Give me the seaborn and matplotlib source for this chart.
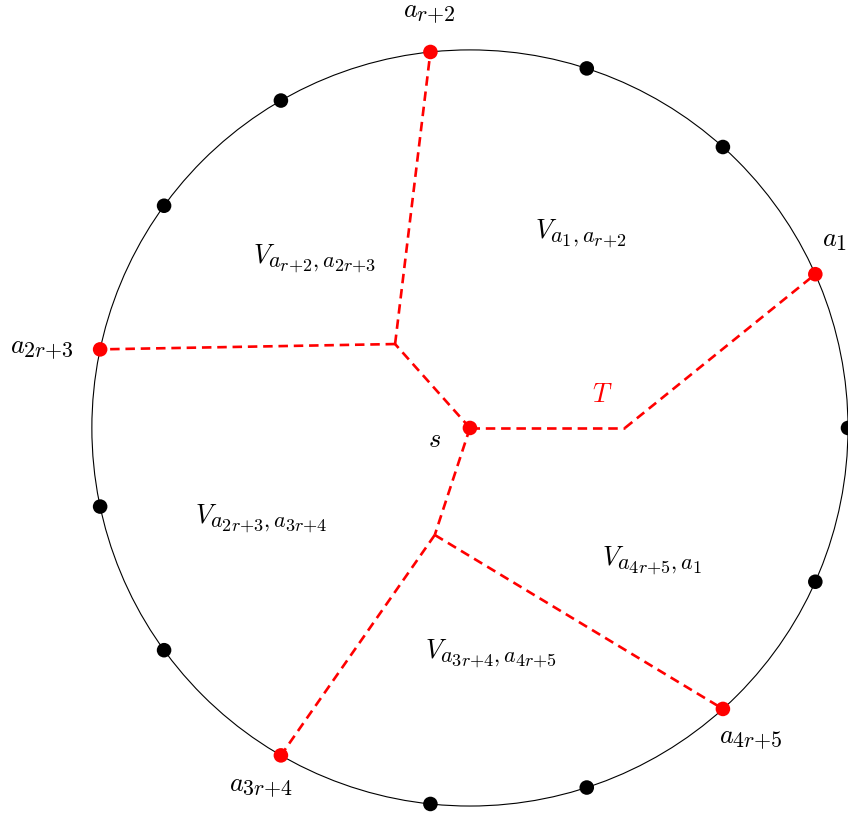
import numpy as np
import pandas as pd
import seaborn as sns
import matplotlib.pyplot as plt
import matplotlib._mathtext as mathtext_internals
from matplotlib.patches import Circle

sns.set_theme(style="white")
plt.rcParams["mathtext.fontset"] = "cm"
# subscripts in the reference are larger than matplotlib's default 0.7 shrink
mathtext_internals.SHRINK_FACTOR = 0.83

# boundary points on the unit circle (degrees)
angles = [0, 24, 48, 72, 96, 120, 144, 168, 192, 216, 240, 264, 288, 312, 336]
terminal_angles = [24, 96, 168, 240, 312]
terminal_names = ["a1", "ar2", "a2r3", "a3r4", "a4r5"]

# inner tree nodes
inner_nodes = {
    "s": (0.0, 0.0),
    "b": (0.41, 0.0),
    "p": (-0.198, 0.222),
    "q": (-0.093, -0.283),
}

edges = [("s", "b"), ("b", "a1"), ("s", "p"), ("p", "ar2"), ("p", "a2r3"),
         ("s", "q"), ("q", "a3r4"), ("q", "a4r5")]

# labels: (text, x of left edge, y of baseline, color)
# "{+}" keeps the tight script-style spacing of the original
labels = [
    (r"$a_{r{+}2}$", -0.177, 1.087, "black"),
    (r"$a_1$", 0.931, 0.479, "black"),
    (r"$a_{2r{+}3}$", -1.217, 0.198, "black"),
    (r"$a_{3r{+}4}$", -0.638, -0.958, "black"),
    (r"$a_{4r{+}5}$", 0.659, -0.833, "black"),
    (r"$s$", -0.111, -0.050, "black"),
    (r"$T$", 0.323, 0.069, "red"),
    (r"$V_{a_1,a_{r{+}2}}$", 0.172, 0.505, "black"),
    (r"$V_{a_{r{+}2},a_{2r{+}3}}$", -0.574, 0.439, "black"),
    (r"$V_{a_{2r{+}3},a_{3r{+}4}}$", -0.728, -0.251, "black"),
    (r"$V_{a_{4r{+}5},a_1}$", 0.349, -0.362, "black"),
    (r"$V_{a_{3r{+}4},a_{4r{+}5}}$", -0.119, -0.608, "black"),
]

nodes = dict(inner_nodes)
for ang, nm in zip(terminal_angles, terminal_names):
    nodes[nm] = (np.cos(np.radians(ang)), np.sin(np.radians(ang)))

fig = plt.figure(figsize=(8.48, 8.17), dpi=100)
ax = fig.add_axes([0, 0, 1, 1])

ax.add_patch(Circle((0, 0), 1.0, fill=False, color="black", lw=0.8, zorder=1))

for u, v in edges:
    seg = pd.DataFrame({"x": [nodes[u][0], nodes[v][0]], "y": [nodes[u][1], nodes[v][1]]})
    sns.lineplot(data=seg, x="x", y="y", sort=False, ax=ax, color="red",
                 lw=1.9, linestyle=(0, (3.6, 2.2)), zorder=2)

pts = pd.DataFrame({
    "x": np.cos(np.radians(angles)),
    "y": np.sin(np.radians(angles)),
    "kind": ["red" if a in terminal_angles else "black" for a in angles],
})
pts = pd.concat([pts, pd.DataFrame({"x": [0.0], "y": [0.0], "kind": ["red"]})])
sns.scatterplot(data=pts, x="x", y="y", hue="kind",
                palette={"red": "red", "black": "black"},
                s=110, linewidth=0, legend=False, ax=ax, zorder=3)

for txt, x, y, c in labels:
    ax.text(x, y, txt, color=c, fontsize=19, ha="left", va="baseline")

ax.set_xlim(-1.243, 1.0)
ax.set_ylim(-1.029, 1.132)
ax.set_aspect("equal")
ax.axis("off")

plt.savefig("out.png", dpi=100)
